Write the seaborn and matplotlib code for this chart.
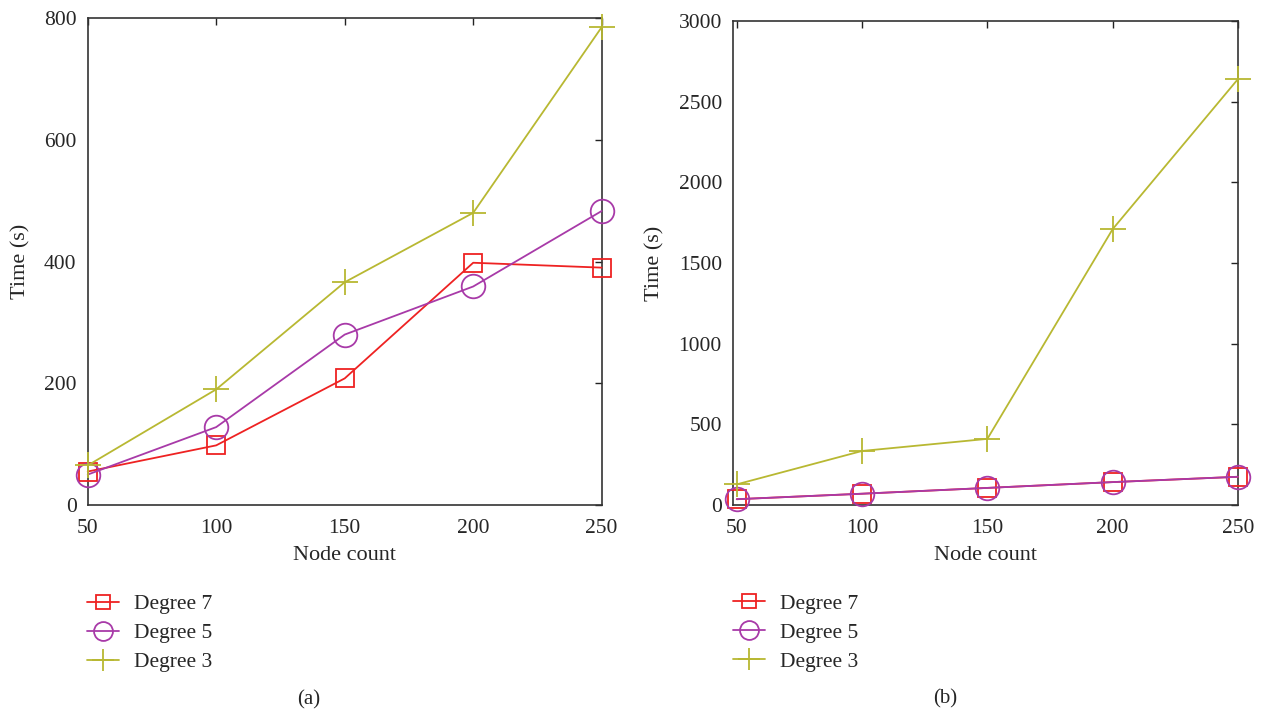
import matplotlib
matplotlib.use("Agg")
import matplotlib.pyplot as plt
import seaborn as sns
import pandas as pd

node_count = [50, 100, 150, 200, 250]
series_names = ["Degree 7", "Degree 5", "Degree 3"]

# panel (a)
a_degree7 = [55, 98, 208, 398, 390]
a_degree5 = [50, 128, 280, 359, 483]
a_degree3 = [65, 190, 366, 480, 785]

# panel (b)
b_degree7 = [36, 70, 106, 142, 175]
b_degree5 = [36, 70, 106, 142, 175]
b_degree3 = [128, 335, 410, 1710, 2640]

a_yticks = [0, 200, 400, 600, 800]
b_yticks = [0, 500, 1000, 1500, 2000, 2500, 3000]
x_ticks = [50, 100, 150, 200, 250]

colors = {"Degree 7": "#EE2222", "Degree 5": "#A83AA8", "Degree 3": "#B8B832"}

sns.set_style("white")
plt.rcParams["font.family"] = ["Liberation Serif", "DejaVu Serif"]

def make_df(v7, v5, v3):
    rows = []
    for name, vals in zip(series_names, [v7, v5, v3]):
        for x, y in zip(node_count, vals):
            rows.append({"Node count": x, "Time (s)": y, "series": name})
    return pd.DataFrame(rows)

fig = plt.figure(figsize=(12.64, 7.14), dpi=100)
axA = fig.add_axes([0.0694, 0.2927, 0.4066, 0.6820])
axB = fig.add_axes([0.5799, 0.2927, 0.3995, 0.6779])

def draw(ax, df, yticks, ylim, xlim, loc_label, cap_x):
    style_kw = {"Degree 7": dict(marker="s", ms=13),
                "Degree 5": dict(marker="o", ms=17),
                "Degree 3": dict(marker="+", ms=19)}
    for name in series_names:
        sub = df[df["series"] == name]
        sns.lineplot(data=sub, x="Node count", y="Time (s)", ax=ax,
                     color=colors[name], lw=1.3, label=name,
                     mfc="none", mec=colors[name], mew=1.3, clip_on=False,
                     zorder=3, **style_kw[name])
    for line in ax.lines:
        line.set_markerfacecolor("none")
        line.set_markeredgecolor(line.get_color())
        line.set_clip_on(False)
    ax.set_xlim(*xlim)
    ax.set_ylim(*ylim)
    ax.set_xticks(x_ticks)
    ax.set_yticks(yticks)
    ax.tick_params(direction="in", length=5, width=1, top=True, right=True,
                   labelsize=15.5, color="#222222")
    ax.tick_params(axis="x", pad=10)
    ax.tick_params(axis="y", pad=8)
    for s in ax.spines.values():
        s.set_color("#333333")
        s.set_linewidth(1.2)
        s.set_visible(True)
    ax.set_xlabel("Node count", fontsize=16, labelpad=6)
    ax.set_ylabel("Time (s)", fontsize=16, labelpad=10)
    h, l = ax.get_legend_handles_labels()
    ax.legend(h, l, loc="upper left", bbox_to_anchor=(-0.018, -0.165),
              frameon=False, fontsize=15.5, handlelength=1.5, handletextpad=0.7,
              labelspacing=0.42, borderaxespad=0, markerscale=0.8)
    ax.text(cap_x, -0.40, loc_label, transform=ax.transAxes, ha="center",
            va="center", fontsize=15)

draw(axA, make_df(a_degree7, a_degree5, a_degree3), a_yticks, (0, 800), (50, 250), "(a)", 0.43)
draw(axB, make_df(b_degree7, b_degree5, b_degree3), b_yticks, (0, 3000), (48.5, 250), "(b)", 0.42)

fig.savefig("out.png", dpi=100)
